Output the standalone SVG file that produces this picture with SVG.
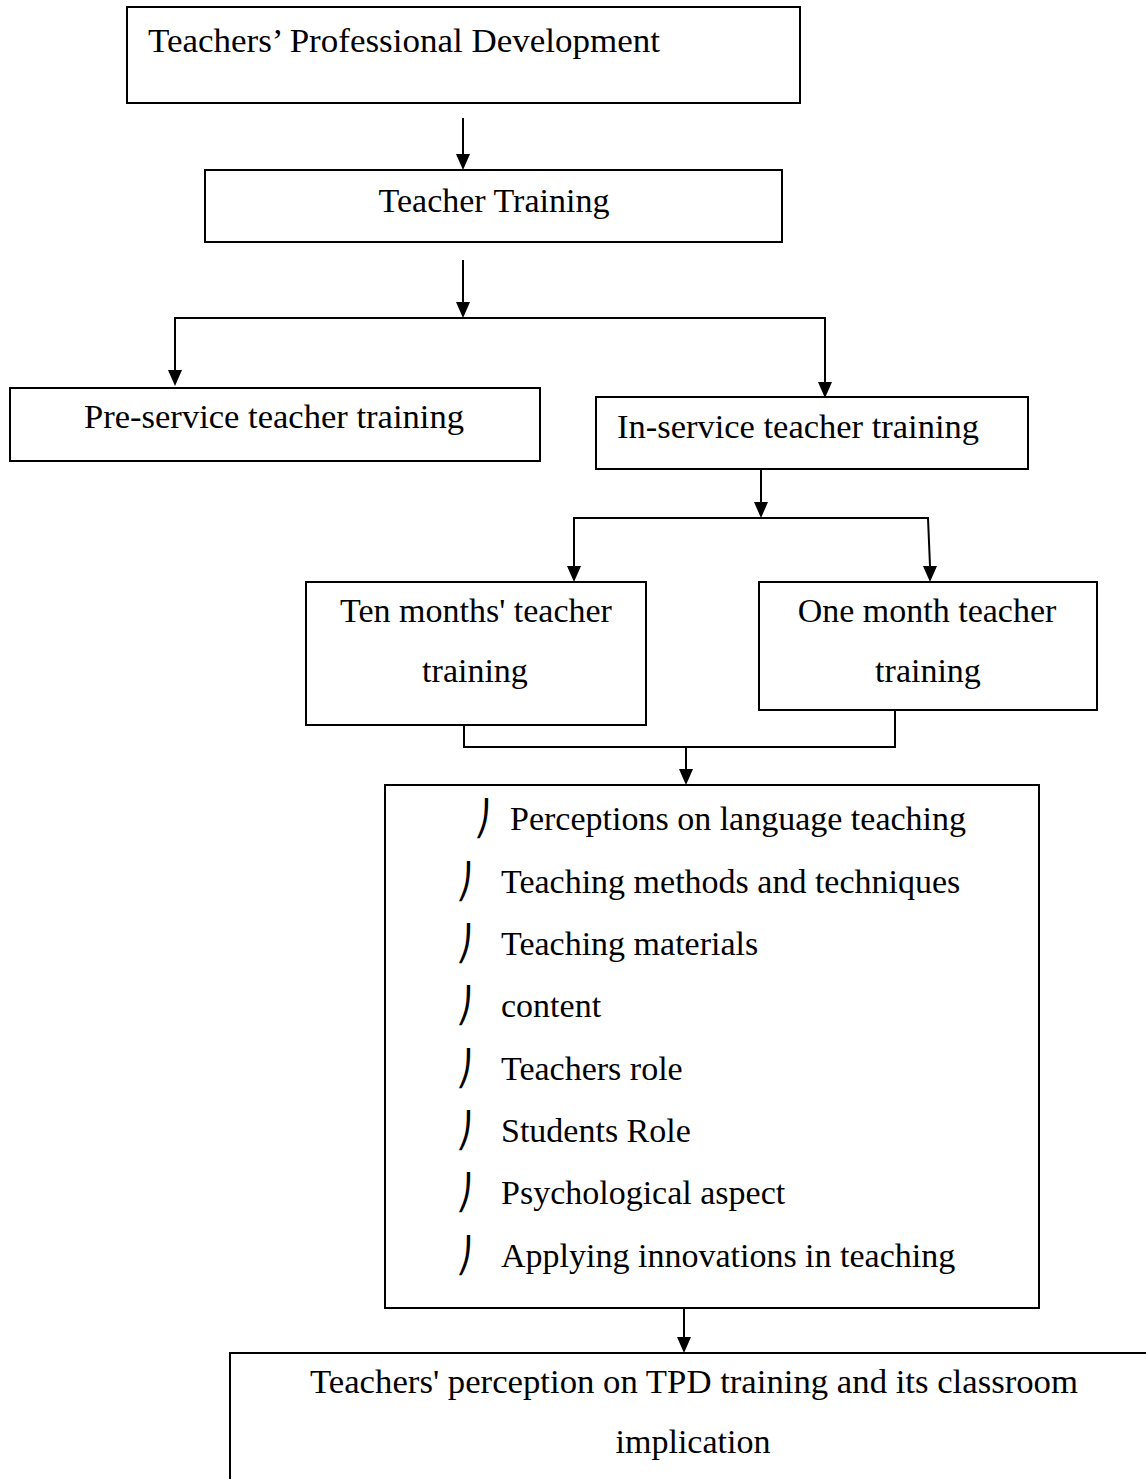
<svg xmlns="http://www.w3.org/2000/svg" width="1146" height="1479" viewBox="0 0 1146 1479">
<style>
.box{fill:#fff;stroke:#000;stroke-width:2}
.t{font-family:"Liberation Serif","Times New Roman",serif;font-size:34px;fill:#000}
.c{text-anchor:middle}
.b{font-family:"DejaVu Sans",sans-serif;font-size:34px;fill:#000}
.ln{fill:none;stroke:#000;stroke-width:2}
</style>
<rect width="1146" height="1479" fill="#fff"/>
<g id="connectors">
<line class="ln" x1="463" y1="118" x2="463" y2="154"/><path d="M456,154 L470,154 L463,170 Z"/>
<line class="ln" x1="463" y1="260" x2="463" y2="302"/><path d="M456,302 L470,302 L463,318 Z"/>
<polyline class="ln" points="175,370 175,318 825,318 825,382"/>
<path d="M168,370 L182,370 L175,386 Z"/>
<path d="M818,382 L832,382 L825,398 Z"/>
<line class="ln" x1="761" y1="469" x2="761" y2="502"/><path d="M754,502 L768,502 L761,518 Z"/>
<polyline class="ln" points="574,566 574,518 928,518 930,566"/>
<path d="M567,566 L581,566 L574,582 Z"/>
<path d="M923,566 L937,566 L930,582 Z"/>
<polyline class="ln" points="464,717 464,747 895,747 895,710"/>
<line class="ln" x1="686" y1="747" x2="686" y2="769"/><path d="M679,769 L693,769 L686,785 Z"/>
<line class="ln" x1="684" y1="1303" x2="684" y2="1337"/><path d="M677,1337 L691,1337 L684,1353 Z"/>
</g>
<g id="n1"><rect class="box" x="127" y="7" width="673" height="96"/><text class="t" x="148" y="52" textLength="512" lengthAdjust="spacingAndGlyphs">Teachers’ Professional Development</text></g>
<g id="n2"><rect class="box" x="205" y="170" width="577" height="72"/><text class="t c" x="494" y="212">Teacher Training</text></g>
<g id="n3"><rect class="box" x="10" y="388" width="530" height="73"/><text class="t" x="84" y="428" textLength="380" lengthAdjust="spacingAndGlyphs">Pre-service teacher training</text></g>
<g id="n4"><rect class="box" x="596" y="397" width="432" height="72"/><text class="t" x="617" y="438" textLength="362" lengthAdjust="spacingAndGlyphs">In-service teacher training</text></g>
<g id="n5"><rect class="box" x="306" y="582" width="340" height="143"/><text class="t c" x="476" y="622">Ten months' teacher</text><text class="t c" x="475" y="682">training</text></g>
<g id="n6"><rect class="box" x="759" y="582" width="338" height="128"/><text class="t c" x="927" y="622">One month teacher</text><text class="t c" x="928" y="682">training</text></g>
<g id="n7"><rect class="box" x="385" y="785" width="654" height="523"/>
<text class="b" x="474" y="830">⎠</text><text class="t" x="510" y="830">Perceptions on language teaching</text>
<text class="b" x="456" y="893">⎠</text><text class="t" x="501" y="893">Teaching methods and techniques</text>
<text class="b" x="456" y="955">⎠</text><text class="t" x="501" y="955">Teaching materials</text>
<text class="b" x="456" y="1017">⎠</text><text class="t" x="501" y="1017">content</text>
<text class="b" x="456" y="1080">⎠</text><text class="t" x="501" y="1080">Teachers role</text>
<text class="b" x="456" y="1142">⎠</text><text class="t" x="501" y="1142">Students Role</text>
<text class="b" x="456" y="1204">⎠</text><text class="t" x="501" y="1204">Psychological aspect</text>
<text class="b" x="456" y="1267">⎠</text><text class="t" x="501" y="1267">Applying innovations in teaching</text>
</g>
<g id="n8"><rect class="box" x="230" y="1353" width="940" height="160"/><text class="t" x="310" y="1393" textLength="768" lengthAdjust="spacingAndGlyphs">Teachers' perception on TPD training and its classroom</text><text class="t c" x="693" y="1453">implication</text></g>
</svg>
